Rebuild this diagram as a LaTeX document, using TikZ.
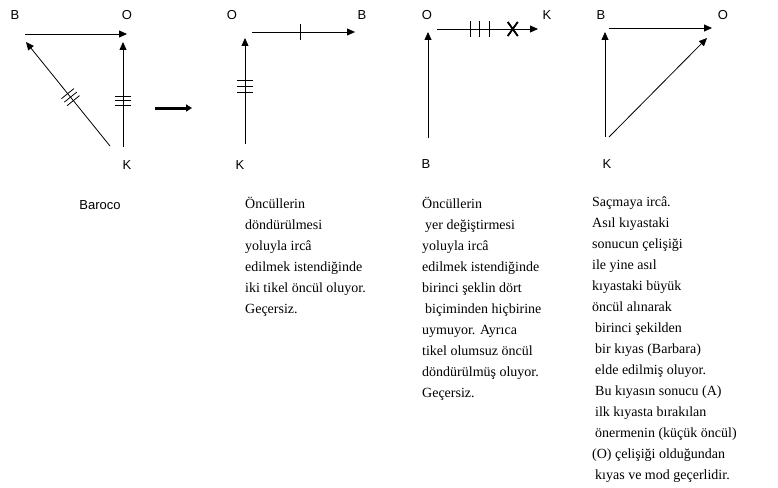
\documentclass[tikz,border=0pt]{standalone}
\usepackage{fontspec}
\setmainfont{Liberation Serif}
\newfontfamily\lblfont{Liberation Sans}
\usetikzlibrary{arrows.meta,decorations.markings}

\newcommand{\lpad}{\hspace*{3pt}}

\tikzset{
  lbl/.style={font=\lblfont\fontsize{13}{15}\selectfont, inner sep=0pt},
  note/.style={font=\fontsize{14}{21}\selectfont, align=left, anchor=north west, inner sep=0pt},
  arr/.style={line width=0.8pt, -{Triangle[length=8pt,width=7pt]}},
  onetick/.style={postaction=decorate, decoration={markings,
    mark=at position #1 with {\draw[-, line width=0.8pt] (0,-8pt) -- (0,8pt);}}},
  threetick/.style 2 args={postaction=decorate, decoration={markings,
    mark=at position #1 with {\foreach \d in {-1,0,1} \draw[-, line width=0.8pt] (\d*#2,-8pt) -- (\d*#2,8pt);}}},
  crossmark/.style={postaction=decorate, decoration={markings,
    mark=at position #1 with {\draw[-, line width=1.6pt] (-5pt,-7pt) -- (5pt,7pt) (-5pt,7pt) -- (5pt,-7pt);}}}
}

\begin{document}
\begin{tikzpicture}[x=1pt, y=-1pt]
    \useasboundingbox (0,0) rectangle (778,487);

    % Baroco
    \node[lbl] (b1) at (15,15) {B};
    \node[lbl] (o1) at (127,15) {O};
    \node[lbl] (k1) at (127,165) {K};
    \coordinate (b1top) at (25,34);
    \coordinate (o1top) at (127,34);
    \coordinate (k1bot) at (123,147);
    \coordinate (o1bot) at (123,42);
    \coordinate (k1diag) at (110,146);
    \coordinate (b1diag) at (26,42);
    \draw[arr] (b1top) -- (o1top);
    \draw[arr, threetick={0.44}{4.5pt}] (k1bot) -- (o1bot);
    \draw[arr, threetick={0.47}{4.5pt}] (k1diag) -- (b1diag);
    \node[lbl] (cap1) at (100,205) {Baroco};

    % Thick arrow between the first two
    \coordinate (go1) at (155,108);
    \coordinate (go2) at (192,108);
    \draw[line width=3pt, -{Triangle[length=6pt,width=7pt]}] (go1) -- (go2);

    % Convert premises
    \node[lbl] (o2) at (232,15) {O};
    \node[lbl] (b2) at (362,15) {B};
    \node[lbl] (k2) at (240,165) {K};
    \coordinate (o2top) at (252,32);
    \coordinate (b2top) at (355,32);
    \coordinate (k2bot) at (245,144);
    \coordinate (o2bot) at (245,38);
    \draw[arr, onetick=0.47] (o2top) -- (b2top);
    \draw[arr, threetick={0.54}{6pt}] (k2bot) -- (o2bot);
    \node[note] (txt2) at (245,197) {Öncüllerin\\döndürülmesi\\yoluyla ircâ\\edilmek istendiğinde\\iki tikel öncül oluyor.\\Geçersiz.};

    % Swap premises
    \node[lbl] (o3) at (427,15) {O};
    \node[lbl] (k3) at (547,15) {K};
    \node[lbl] (b3) at (426,164) {B};
    \coordinate (o3top) at (437,29);
    \coordinate (k3top) at (538,29);
    \coordinate (b3bot) at (428,138);
    \coordinate (o3bot) at (428,32);
    \draw[arr, threetick={0.42}{9.5pt}, crossmark=0.75] (o3top) -- (k3top);
    \draw[arr] (b3bot) -- (o3bot);
    \node[note] (txt3) at (422,197) {Öncüllerin\\\lpad yer değiştirmesi\\yoluyla ircâ\\edilmek istendiğinde\\birinci şeklin dört\\\lpad biçiminden hiçbirine\\uymuyor. Ayrıca\\tikel olumsuz öncül\\döndürülmüş oluyor.\\Geçersiz.};

    % Reductio
    \node[lbl] (b4) at (601,15) {B};
    \node[lbl] (o4) at (723,15) {O};
    \node[lbl] (k4) at (607,164) {K};
    \coordinate (b4top) at (609,28);
    \coordinate (o4top) at (712,28);
    \coordinate (k4bot) at (605,137);
    \coordinate (b4bot) at (605,32);
    \coordinate (k4diag) at (609,137);
    \coordinate (o4diag) at (707,38);
    \draw[arr] (b4top) -- (o4top);
    \draw[arr] (k4bot) -- (b4bot);
    \draw[arr] (k4diag) -- (o4diag);
    \node[note] (txt4) at (592,197) {Saçmaya ircâ.\\Asıl kıyastaki\\sonucun çelişiği\\ile yine asıl\\kıyastaki büyük\\öncül alınarak\\\lpad birinci şekilden\\\lpad bir kıyas (Barbara)\\\lpad elde edilmiş oluyor.\\\lpad Bu kıyasın sonucu (A)\\\lpad ilk kıyasta bırakılan\\\lpad önermenin (küçük öncül)\\(O) çelişiği olduğundan\\\lpad kıyas ve mod geçerlidir.};

\end{tikzpicture}
\end{document}
